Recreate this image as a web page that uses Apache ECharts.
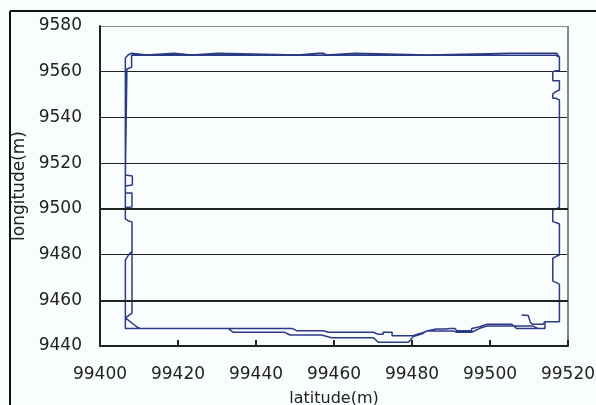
<!DOCTYPE html>
<html>
<head>
<meta charset="utf-8">
<script src="https://cdn.jsdelivr.net/npm/echarts@6/dist/echarts.min.js"></script>
<style>
  html, body { margin: 0; padding: 0; background: #fafdfd; }
  #main { width: 596px; height: 405px; }
</style>
</head>
<body>
<div id="main"></div>
<script>
// axis ticks
var xTicks = [99400, 99420, 99440, 99460, 99480, 99500, 99520];
var yTicks = [9440, 9460, 9480, 9500, 9520, 9540, 9560, 9580];

// first lap of the trace (latitude, longitude in m)
var lap1X = [99508.1, 99509.8, 99510.4, 99511.0, 99513.6, 99514.1, 99517.8, 99517.8, 99517.2, 99516.1,
  99516.1, 99517.2, 99517.8, 99517.8, 99517.2, 99516.1, 99516.1, 99517.2, 99517.8, 99517.8,
  99516.9, 99516.1, 99516.1, 99516.9, 99517.8, 99517.8, 99516.1, 99516.1, 99516.9, 99517.8,
  99517.8, 99516.9, 99408.1, 99408.1, 99406.9, 99406.5, 99406.5, 99408.3, 99408.3, 99406.5,
  99406.5, 99408.2, 99408.2, 99406.5, 99406.5, 99407.3, 99408.2, 99408.2, 99406.5, 99409.5,
  99410.3, 99449.2, 99450.4, 99457.3, 99458.5, 99470.1, 99471.3, 99472.6, 99472.6, 99474.9,
  99474.9, 99480.3, 99481.6, 99482.8, 99483.8, 99486.2, 99488.7, 99489.5, 99491.0, 99491.5,
  99495.3, 99495.3, 99497.4, 99499.2, 99505.6, 99506.8, 99514.1, 99514.1];
var lap1Y = [9453.6, 9453.3, 9450.2, 9449.5, 9449.5, 9450.6, 9450.6, 9467.0, 9467.6, 9468.4,
  9478.4, 9479.4, 9479.8, 9493.4, 9493.8, 9494.4, 9499.5, 9500.2, 9500.8, 9547.6,
  9548.4, 9548.4, 9550.3, 9551.3, 9552.0, 9556.1, 9556.1, 9560.0, 9560.4, 9560.4,
  9566.4, 9567.2, 9567.3, 9561.9, 9561.2, 9560.7, 9514.8, 9514.4, 9510.4, 9510.0,
  9507.1, 9506.9, 9500.8, 9500.6, 9495.6, 9494.7, 9494.3, 9454.4, 9452.3, 9448.3,
  9447.7, 9447.7, 9446.7, 9446.7, 9446.0, 9446.0, 9445.1, 9445.1, 9446.0, 9446.0,
  9444.5, 9444.5, 9445.3, 9445.8, 9446.6, 9447.4, 9447.4, 9447.7, 9447.7, 9446.7,
  9446.7, 9447.7, 9448.4, 9449.5, 9449.5, 9447.7, 9447.7, 9450.6];

// second lap
var lap2X = [99514.1, 99517.8, 99517.8, 99517.2, 99516.1, 99516.1, 99517.2, 99517.8, 99517.8, 99517.2,
  99516.1, 99516.1, 99517.2, 99517.8, 99517.8, 99516.9, 99516.1, 99516.1, 99516.9, 99517.8,
  99517.8, 99516.1, 99516.1, 99516.9, 99517.8, 99517.8, 99517.1, 99505.1, 99505.1, 99484.1,
  99484.1, 99465.4, 99465.4, 99458.1, 99457.2, 99455.9, 99455.6, 99450.8, 99450.8, 99430.3,
  99430.3, 99423.5, 99423.5, 99419.0, 99419.0, 99412.0, 99412.0, 99408.1, 99407.2, 99406.5,
  99406.5, 99406.5, 99407.3, 99408.2, 99408.2, 99407.5, 99406.5, 99406.5, 99432.9, 99434.1,
  99447.4, 99448.7, 99456.8, 99459.4, 99470.1, 99471.4, 99479.1, 99480.3, 99481.6, 99482.8,
  99483.8, 99490.5, 99491.5, 99495.3, 99497.4, 99499.2, 99505.6, 99511.0, 99512.3];
var lap2Y = [9450.6, 9450.6, 9467.0, 9467.6, 9468.4, 9478.4, 9479.4, 9479.8, 9493.4, 9493.8,
  9494.4, 9499.5, 9500.2, 9500.8, 9547.6, 9548.4, 9548.4, 9550.3, 9551.3, 9552.0,
  9556.1, 9556.1, 9560.0, 9560.4, 9560.4, 9566.4, 9568.1, 9568.1, 9567.3, 9567.3,
  9568.1, 9568.1, 9567.3, 9567.3, 9568.1, 9568.1, 9567.3, 9567.3, 9568.1, 9568.1,
  9567.3, 9567.3, 9568.1, 9568.1, 9567.3, 9567.3, 9568.1, 9568.1, 9567.3, 9566.0,
  9500.6, 9495.6, 9494.7, 9494.3, 9481.3, 9480.3, 9477.6, 9447.7, 9447.7, 9446.0,
  9446.0, 9444.8, 9444.8, 9443.6, 9443.6, 9441.6, 9441.6, 9444.1, 9444.8, 9445.5,
  9446.6, 9446.6, 9446.0, 9446.0, 9447.7, 9448.7, 9448.7, 9448.7, 9447.7];

var track = [];
for (var i = 0; i < lap1X.length; i++) track.push([lap1X[i], lap1Y[i]]);
for (var j = 0; j < lap2X.length; j++) track.push([lap2X[j], lap2Y[j]]);

var fontName = 'DejaVu Sans';
var myChart = echarts.init(document.getElementById('main'));
myChart.setOption({
  animation: false,
  backgroundColor: '#fafdfd',
  grid: { left: 100, right: 28, top: 26, bottom: 59, containLabel: false, outerBoundsMode: 'none' },
  xAxis: {
    type: 'value',
    min: xTicks[0],
    max: xTicks[xTicks.length - 1],
    interval: 20,
    name: 'latitude(m)',
    nameLocation: 'middle',
    nameGap: 45,
    nameTextStyle: { color: '#222', fontSize: 16, fontFamily: fontName },
    axisLine: { show: true, lineStyle: { color: '#222', width: 2 } },
    axisTick: { show: true, inside: true, length: 6, lineStyle: { color: '#222', width: 2 } },
    axisLabel: { color: '#222', fontSize: 17, fontFamily: fontName, margin: 20,
      formatter: function (v) { return String(v); } },
    splitLine: { show: true, lineStyle: { color: ['transparent', 'transparent', 'transparent', 'transparent', 'transparent', 'transparent', '#888'], width: 2 } }
  },
  yAxis: {
    type: 'value',
    min: yTicks[0],
    max: yTicks[yTicks.length - 1],
    interval: 20,
    name: 'longitude(m)',
    nameLocation: 'middle',
    nameGap: 67,
    nameTextStyle: { color: '#222', fontSize: 17, fontFamily: fontName },
    axisLine: { show: true, lineStyle: { color: '#222', width: 2 } },
    axisTick: { show: false },
    axisLabel: { color: '#222', fontSize: 17, fontFamily: fontName, margin: 18,
      formatter: function (v) { return String(v); } },
    splitLine: { show: true, lineStyle: { color: ['#222', '#222', '#222', '#222', '#222', '#222', '#222', '#888'], width: 1 } }
  },
  graphic: [
    { type: 'line', shape: { x1: 10, y1: 11, x2: 596, y2: 11 }, style: { stroke: '#111', lineWidth: 2 } },
    { type: 'line', shape: { x1: 10, y1: 11, x2: 10, y2: 405 }, style: { stroke: '#111', lineWidth: 2 } }
  ],
  series: [{
    type: 'line',
    data: track,
    showSymbol: false,
    symbol: 'none',
    lineStyle: { color: '#2b3a85', width: 1.5 },
    markLine: {
      silent: true,
      symbol: 'none',
      label: { show: false },
      lineStyle: { color: '#222', width: 2, type: 'solid' },
      data: [{ yAxis: 9500 }, { yAxis: 9460 }]
    }
  }]
});
</script>
</body>
</html>
